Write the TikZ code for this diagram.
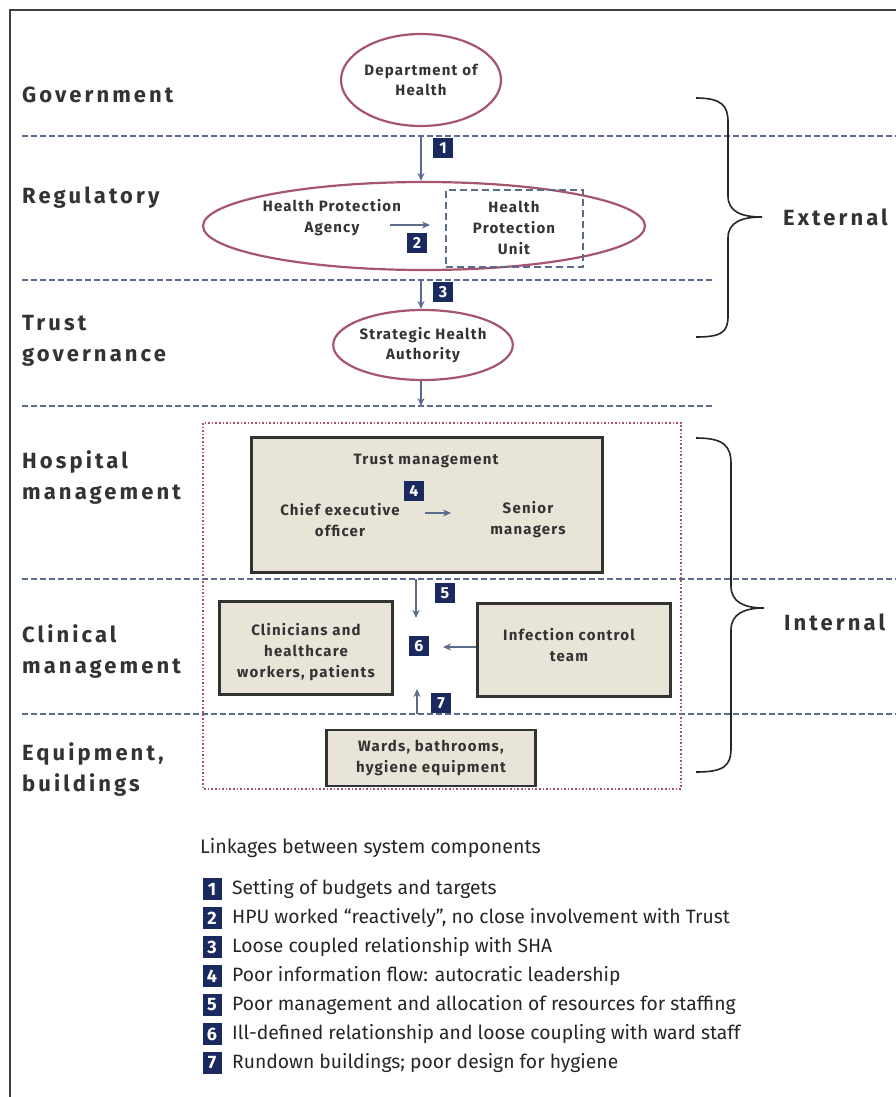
\documentclass[tikz,border=0pt]{standalone}
\usepackage{fontspec}
\setmainfont{Fira Sans}
\newfontfamily\lblfont[LetterSpace=14]{Fira Sans}
\newfontfamily\boxfont[LetterSpace=8]{Fira Sans}
\usetikzlibrary{shapes.geometric,arrows.meta}
\definecolor{navy}{HTML}{1B2A5E}
\definecolor{slate}{HTML}{5B6B8C}
\definecolor{mauve}{HTML}{A5566E}
\definecolor{beige}{HTML}{E8E4D8}
\definecolor{ink}{HTML}{333333}
\tikzset{
  level/.style={anchor=west, align=left, text=ink, inner sep=0pt,
    font=\lblfont\bfseries\fontsize{22}{31}\selectfont},
  body/.style={ellipse, draw=mauve, line width=2.2pt, inner sep=0pt, align=center,
    text=ink, font=\boxfont\bfseries\fontsize{15}{20.5}\selectfont},
  unit/.style={rectangle, draw=ink, line width=2.2pt, fill=beige, align=center,
    text=ink, font=\boxfont\bfseries\fontsize{15}{21}\selectfont},
  txt/.style={align=center, text=ink, inner sep=0pt,
    font=\boxfont\bfseries\fontsize{15}{21}\selectfont},
  badge/.style={fill=navy, text=white, inner sep=0pt, minimum width=20pt,
    minimum height=20pt, font=\bfseries\fontsize{16}{16}\selectfont},
  link/.style={-{Stealth[length=8pt,width=7pt]}, draw=slate, line width=1.8pt},
  sep/.style={draw=slate, line width=1.6pt, dash pattern=on 6pt off 3pt},
  brace/.style={draw=black!85, line width=1.6pt},
  legbadge/.style={fill=navy, text=white, inner sep=0pt, minimum width=19pt,
    minimum height=22pt, font=\bfseries\fontsize{18}{18}\selectfont},
  legtxt/.style={anchor=west, inner sep=0pt, text=black!85,
    font=\fontsize{19.3}{22}\selectfont}
}
\begin{document}
\begin{tikzpicture}[x=1pt,y=-1pt]
  \useasboundingbox (0,0) rectangle (896,1097);
  % frame
  \draw[black!75, line width=1.3pt] (10,1097) -- (10,10) -- (896,10);

  % levels
  \node[level] (gov) at (22,95) {Government};
  \node[level] (regl) at (22,198) {Regulatory};
  \node[level] (tgov) at (22,341) {Trust\\governance};
  \node[level] (hosp) at (22,478) {Hospital\\management};
  \node[level] (clin) at (22,652) {Clinical\\management};
  \node[level] (equip) at (22,770) {Equipment,\\buildings};

  % separators
  \draw[sep] (22,136) -- (896,136);
  \draw[sep] (22,280) -- (712,280);
  \draw[sep] (22,406) -- (712,406);
  \draw[sep] (22,579) -- (896,579);
  \draw[sep] (22,714) -- (896,714);

  % external bodies
  \node[body, minimum width=152pt, minimum height=92pt] (doh) at (421,80) {Department of\\Health};
  \node[body, minimum width=442pt, minimum height=88pt] (reg) at (424,226) {};
  \node[txt] (hpa) at (332,218) {Health Protection\\Agency};
  \node[rectangle, draw=slate, line width=2pt, dash pattern=on 7pt off 4pt,
    minimum width=137pt, minimum height=77pt, txt] (hpu) at (514,228) {Health\\Protection\\Unit};
  \node[body, minimum width=176pt, minimum height=70pt] (sha) at (423,345) {Strategic Health\\Authority};

  \coordinate (c1) at (421,136);
  \coordinate (c3) at (421,280);
  \coordinate (c4) at (421,406);
  \coordinate (c2) at (390,225);
  \draw[link] (c1) -- (c1 |- reg.north);
  \draw[link] (c2) -- ++(40,0);
  \draw[link] (c3) -- (c3 |- sha.north);
  \draw[link] (c3 |- sha.south) -- (c4);
  \node[badge] (b1) at (443,148) {1};
  \node[badge] (b2) at (417,243) {2};
  \node[badge] (b3) at (443,292) {3};

  % internal
  \draw[mauve, line width=1.6pt, dotted] (203,423) rectangle (681,789);
  \node[unit, minimum width=351pt, minimum height=135pt] (tm) at (427,505) {};
  \node[txt] (tmt) at (426,461) {Trust management};
  \node[txt] (ceo) at (340,520) {Chief executive\\officer};
  \node[txt] (sm) at (528,520) {Senior\\managers};
  \draw[link, line width=1.4pt] (425,513) -- (451,513);
  \node[badge] (b4) at (414,491) {4};

  \node[unit, minimum width=173pt, minimum height=93pt] (cw) at (306,648) {};
  \node[txt] (cwt) at (306,652) {Clinicians and\\healthcare\\workers, patients};
  \node[unit, minimum width=193pt, minimum height=93pt] (ict) at (574,650) {};
  \node[txt] (ictt) at (569,645) {Infection control\\team};
  \node[unit, minimum width=209pt, minimum height=56pt] (wards) at (431,758) {Wards, bathrooms,\\hygiene equipment};
  \node[badge] (b5) at (445,593) {5};
  \node[badge] (b6) at (419,646) {6};
  \node[badge] (b7) at (441,703) {7};
  \coordinate (c5) at (416,579);
  \coordinate (c7) at (417,714);
  \draw[link] (c5) -- ++(0,39);
  \draw[link] (ict.west |- 0,647) -- (443,647);
  \draw[link] (c7) -- ++(0,-25);

  % braces
  \draw[brace] (696,98) .. controls (722,98) and (728,106) .. (728,122) -- (728,196)
    .. controls (728,212) and (742,217) .. (762,217)
    .. controls (742,217) and (728,222) .. (728,238) -- (728,316)
    .. controls (728,332) and (722,337) .. (696,337);
  \node[level, font=\lblfont\bfseries\fontsize{22}{23}\selectfont] (ext) at (783,217) {External};
  \draw[brace] (696,438) .. controls (724,438) and (731,446) .. (731,464) -- (731,586)
    .. controls (731,602) and (744,608) .. (764,608)
    .. controls (744,608) and (731,614) .. (731,630) -- (731,748)
    .. controls (731,766) and (724,772) .. (696,772);
  \node[level, font=\lblfont\bfseries\fontsize{22}{23}\selectfont] (int) at (784,622) {Internal};

  % legend
  \node[anchor=west, inner sep=0pt, text=black!85, font=\fontsize{19.6}{22}\selectfont] (legt) at (200,848) {Linkages between system components};
  \foreach \n/\t [count=\i from 0] in {1/Setting of budgets and targets,
      2/HPU worked “reactively”{,} no close involvement with Trust,
      3/Loose coupled relationship with SHA,
      4/Poor information flow: autocratic leadership,
      5/Poor management and allocation of resources for staffing,
      6/Ill-defined relationship and loose coupling with ward staff,
      7/Rundown buildings; poor design for hygiene} {
    \node[legbadge] (lb\n) at (212,889+29*\i) {\n};
    \node[legtxt] (lt\n) at (232,889+29*\i) {\t};
  }
\end{tikzpicture}
\end{document}
